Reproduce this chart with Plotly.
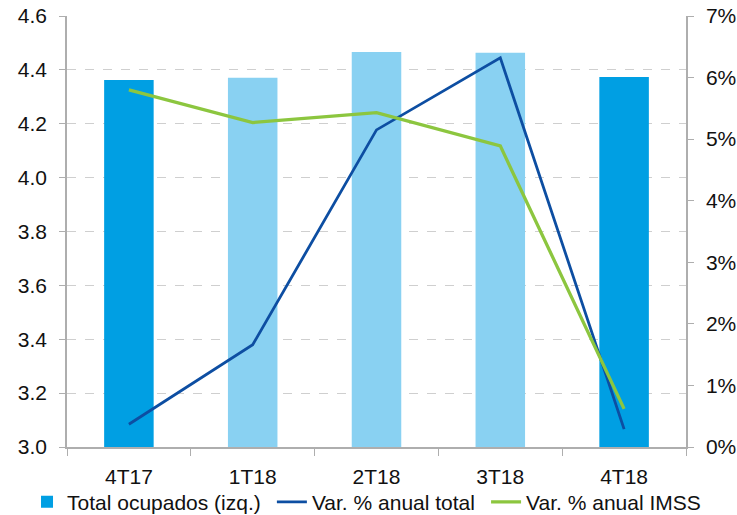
import plotly.graph_objects as go

# Quarterly employment data
quarters = ["4T17", "1T18", "2T18", "3T18", "4T18"]
total_ocupados = [4.362, 4.371, 4.466, 4.464, 4.374]          # left axis
var_anual_total = [0.0037, 0.0166, 0.0515, 0.0632, 0.0029]    # right axis
var_anual_imss = [0.0580, 0.0527, 0.0543, 0.0489, 0.0062]     # right axis

# Same-quarter bars (4T) in a stronger blue
bar_colors = ["#009FE3", "#89D1F2", "#89D1F2", "#89D1F2", "#009FE3"]

font_family = "Liberation Sans, Arial, sans-serif"
axis_grey = "#AEAEAE"
text_color = "#111111"
font_size = 21

fig = go.Figure()

fig.add_trace(go.Bar(
    x=quarters, y=total_ocupados,
    name="Total ocupados (izq.)",
    marker=dict(color=bar_colors, line=dict(width=0)),
    width=0.4,
    yaxis="y",
    legend="legend",
))
fig.add_trace(go.Scatter(
    x=quarters, y=var_anual_total,
    name="Var. % anual total",
    mode="lines",
    line=dict(color="#0D4EA2", width=2.8),
    yaxis="y2",
    legend="legend2",
))
fig.add_trace(go.Scatter(
    x=quarters, y=var_anual_imss,
    name="Var. % anual IMSS",
    mode="lines",
    line=dict(color="#8CC63F", width=3.3),
    yaxis="y2",
    legend="legend3",
))

legend_common = dict(
    orientation="h",
    xanchor="left",
    y=-0.128, yanchor="middle",
    font=dict(size=font_size, color=text_color),
    itemwidth=30,
    bgcolor="rgba(0,0,0,0)",
)

fig.update_layout(
    width=737, height=515,
    margin=dict(l=67, r=51, t=16, b=68, autoexpand=False),
    paper_bgcolor="white",
    plot_bgcolor="white",
    font=dict(family=font_family, size=font_size, color=text_color),
    showlegend=True,
    legend=dict(x=-0.0646, **legend_common),
    legend2=dict(x=0.331, **legend_common),
    legend3=dict(x=0.677, **legend_common),
    xaxis=dict(
        type="category",
        showline=True, linecolor=axis_grey, linewidth=1.5,
        ticks="outside", tickson="boundaries", ticklen=7, tickcolor=axis_grey,
        showgrid=False,
        ticklabelstandoff=10,
        tickfont=dict(size=font_size),
    ),
    yaxis=dict(
        range=[3.0, 4.6], dtick=0.2, tickformat=".1f",
        showline=True, linecolor=axis_grey, linewidth=1.5,
        ticks="outside", ticklen=6, tickcolor=axis_grey,
        showgrid=True, gridcolor="#CFCFCF", griddash="dash", gridwidth=1,
        zeroline=False,
        ticklabelstandoff=8,
        tickfont=dict(size=font_size),
    ),
    yaxis2=dict(
        overlaying="y", side="right",
        range=[0, 0.07], dtick=0.01, tickformat=".0%",
        showline=True, linecolor=axis_grey, linewidth=1.5,
        ticks="outside", ticklen=6, tickcolor=axis_grey,
        showgrid=False, zeroline=False,
        ticklabelstandoff=8,
        tickfont=dict(size=font_size),
    ),
)

fig.write_html("out.html")
